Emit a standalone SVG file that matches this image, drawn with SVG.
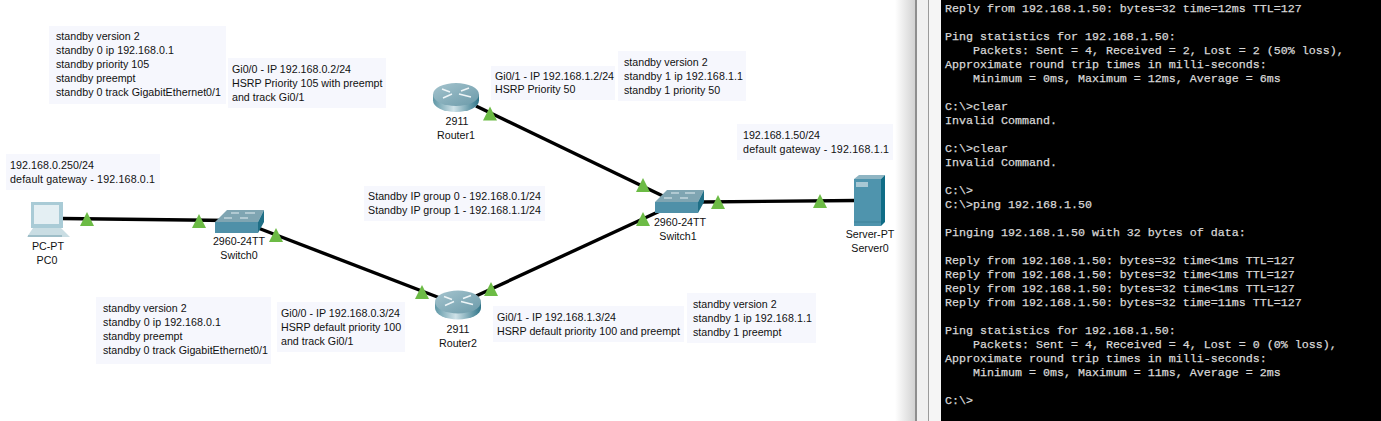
<svg xmlns="http://www.w3.org/2000/svg" width="1381" height="421" viewBox="0 0 1381 421">
<style>
text{font-family:"Liberation Sans",Arial,sans-serif;font-size:10.68px;fill:#111}
.c{text-anchor:middle}
.note{fill:#f6f7fd}
.link{stroke:#000;stroke-width:3.4;fill:none}
.tri{fill:#6cbb45}
.term text{font-family:"Liberation Mono","Courier New",monospace;font-size:11.67px;fill:#d8d8d8;white-space:pre;stroke:#d8d8d8;stroke-width:.25}
</style>
<defs>
<linearGradient id="rt" x1="0" x2="1" y1="0" y2="0"><stop offset="0" stop-color="#5f97a6"/><stop offset=".45" stop-color="#cfe2e8"/><stop offset="1" stop-color="#2f7488"/></linearGradient>
<linearGradient id="rtop" x1="0" x2="1" y1="0" y2="1"><stop offset="0" stop-color="#a5c4ce"/><stop offset="1" stop-color="#6b9aa9"/></linearGradient>
<linearGradient id="shadow" x1="0" x2="1" y1="0" y2="0"><stop offset="0" stop-color="#fff"/><stop offset="1" stop-color="#d2d2d2"/></linearGradient>
<g id="router">
<ellipse cx="0" cy="2.5" rx="23" ry="11.5" fill="url(#rt)"/>
<rect x="-23" y="-3.5" width="46" height="6" fill="url(#rt)"/>
<ellipse cx="0" cy="-3.5" rx="23" ry="11.5" fill="url(#rtop)"/>
<path d="M-14-9l8 3 M-13 0l9-4 M13-10l-8 3 M3-4l12 3" stroke="#eef5f7" stroke-width="1.5" fill="none"/>
</g>
<g id="switch">
<path d="M-25 1L-13-11H24L18 1Z" fill="#7fa5b2"/>
<path d="M18 1L24-11V1L18 12Z" fill="#1f6f86"/>
<rect x="-25" y="1" width="43" height="11" fill="#4f90a8"/>
<path d="M-9-8h8 M5-8h10 M-16-3h8 M0-3h8" stroke="#e4eef2" stroke-width="1"/>
</g>
<path id="t" d="M0-7L7 7H-7Z" class="tri"/>
</defs>

<rect width="1381" height="421" fill="#fff"/>

<g id="connectors">
<path class="link" d="M62 218.500L230 220.500"/>
<path class="link" d="M258 228L440 298"/>
<path class="link" d="M476 106L665 197"/>
<path class="link" d="M476 296L660 211"/>
<path class="link" d="M700 202L856 200.500"/>
</g>
<g id="link-markers">
<use href="#t" x="87" y="219"/>
<use href="#t" x="199" y="221"/>
<use href="#t" x="276" y="235"/>
<use href="#t" x="422" y="292"/>
<use href="#t" x="491" y="289"/>
<use href="#t" x="643" y="219"/>
<use href="#t" x="490" y="113.500"/>
<use href="#t" x="643" y="185"/>
<use href="#t" x="718" y="202"/>
<use href="#t" x="820" y="201"/>
</g>

<g id="note-r0-config"><rect class="note" x="49" y="26" width="177" height="78"/>
<text x="56" y="40">standby version 2</text><text x="56" y="54" textLength="118">standby 0 ip 192.168.0.1</text><text x="56" y="68">standby priority 105</text><text x="56" y="82">standby preempt</text><text x="56" y="96" textLength="165">standby 0 track GigabitEthernet0/1</text></g>
<g id="note-r0-if"><rect class="note" x="228" y="58" width="158" height="50"/>
<text x="232" y="73">Gi0/0 - IP 192.168.0.2/24</text><text x="232" y="87">HSRP Priority 105 with preempt</text><text x="232" y="101">and track Gi0/1</text></g>
<g id="note-pc"><rect class="note" x="6" y="154" width="154" height="36"/>
<text x="10" y="169" textLength="84">192.168.0.250/24</text><text x="10" y="183" textLength="145">default gateway - 192.168.0.1</text></g>
<g id="note-r1-if"><rect class="note" x="491" y="66" width="124" height="34"/>
<text x="495" y="80">Gi0/1 - IP 192.168.1.2/24</text><text x="495" y="93">HSRP Priority 50</text></g>
<g id="note-r1-config"><rect class="note" x="618" y="51" width="128" height="50"/>
<text x="624" y="66">standby version 2</text><text x="624" y="80" textLength="119">standby 1 ip 192.168.1.1</text><text x="624" y="94">standby 1 priority 50</text></g>
<g id="note-server"><rect class="note" x="737" y="124" width="156" height="36"/>
<text x="743" y="139" textLength="77">192.168.1.50/24</text><text x="743" y="153" textLength="146">default gateway - 192.168.1.1</text></g>
<g id="note-standby"><rect class="note" x="364" y="186" width="181" height="35"/>
<text x="368" y="200" textLength="173">Standby IP group 0 - 192.168.0.1/24</text><text x="368" y="214" textLength="173">Standby IP group 1 - 192.168.1.1/24</text></g>
<g id="note-r2-config"><rect class="note" x="96" y="297" width="175" height="67"/>
<text x="103" y="312">standby version 2</text><text x="103" y="326" textLength="118">standby 0 ip 192.168.0.1</text><text x="103" y="340">standby preempt</text><text x="103" y="354" textLength="165">standby 0 track GigabitEthernet0/1</text></g>
<g id="note-r2-if0"><rect class="note" x="277" y="302" width="128" height="50"/>
<text x="281" y="317">Gi0/0 - IP 192.168.0.3/24</text><text x="281" y="331">HSRP default priority 100</text><text x="281" y="345">and track Gi0/1</text></g>
<g id="note-r2-if1"><rect class="note" x="493" y="306" width="191" height="36"/>
<text x="497" y="321">Gi0/1 - IP 192.168.1.3/24</text><text x="497" y="335" textLength="183">HSRP default priority 100 and preempt</text></g>
<g id="note-r2-config1"><rect class="note" x="687" y="293" width="129" height="50"/>
<text x="693" y="308">standby version 2</text><text x="693" y="322" textLength="119">standby 1 ip 192.168.1.1</text><text x="693" y="336">standby 1 preempt</text></g>

<g id="PC0">
<rect x="31" y="202" width="32" height="26" fill="#a9cbd6"/>
<rect x="34" y="205" width="25" height="19" fill="#e4eff3"/>
<path d="M33 228H61L70 237H27Z" fill="#c9dde3"/>
<path d="M28 236H62" stroke="#8fb3bf" stroke-width="1.5"/>
<text class="c" x="48" y="250">PC-PT</text><text class="c" x="47" y="264">PC0</text>
</g>
<g id="Switch0">
<use href="#switch" x="240" y="221"/>
<text class="c" x="239" y="245">2960-24TT</text><text class="c" x="239" y="259">Switch0</text>
</g>
<g id="Router1">
<use href="#router" x="456" y="98"/>
<text class="c" x="457" y="125">2911</text><text class="c" x="456" y="139">Router1</text>
</g>
<g id="Router2">
<use href="#router" x="458" y="305.500"/>
<text class="c" x="458" y="333">2911</text><text class="c" x="458" y="347">Router2</text>
</g>
<g id="Switch1">
<use href="#switch" x="680" y="201"/>
<text class="c" x="680" y="226">2960-24TT</text><text class="c" x="678" y="240">Switch1</text>
</g>
<g id="Server0">
<path d="M854 179L859 175H885L881 179Z" fill="#8fb5c3"/>
<path d="M881 179L885 175V222L881 226Z" fill="#0f6c86"/>
<rect x="854" y="179" width="27" height="47" fill="#4f94ad"/>
<rect x="856" y="182" width="12" height="5" fill="#a8c8d4"/>
<path d="M854 222H881" stroke="#3f8299"/>
<text class="c" x="870" y="238">Server-PT</text><text class="c" x="870" y="252">Server0</text>
</g>

<g id="window-chrome">
<rect x="895" y="0" width="20" height="421" fill="url(#shadow)"/>
<rect x="915" y="0" width="2" height="421" fill="#8e8e8e"/>
<rect x="917" y="0" width="11" height="421" fill="#f0f0f0"/>
<rect x="928" y="0" width="1" height="421" fill="#9a9a9a"/>
<rect x="929" y="0" width="12" height="421" fill="#f5f5f5"/>
</g>
<g id="terminal" class="term">
<rect x="941" y="0" width="440" height="421" fill="#000"/>
<text x="945" y="12">Reply from 192.168.1.50: bytes=32 time=12ms TTL=127</text>
<text x="945" y="40">Ping statistics for 192.168.1.50:</text>
<text x="945" y="54">    Packets: Sent = 4, Received = 2, Lost = 2 (50% loss),</text>
<text x="945" y="68">Approximate round trip times in milli-seconds:</text>
<text x="945" y="82">    Minimum = 0ms, Maximum = 12ms, Average = 6ms</text>
<text x="945" y="110">C:\&gt;clear</text>
<text x="945" y="124">Invalid Command.</text>
<text x="945" y="152">C:\&gt;clear</text>
<text x="945" y="166">Invalid Command.</text>
<text x="945" y="194">C:\&gt;</text>
<text x="945" y="208">C:\&gt;ping 192.168.1.50</text>
<text x="945" y="236">Pinging 192.168.1.50 with 32 bytes of data:</text>
<text x="945" y="264">Reply from 192.168.1.50: bytes=32 time&lt;1ms TTL=127</text>
<text x="945" y="278">Reply from 192.168.1.50: bytes=32 time&lt;1ms TTL=127</text>
<text x="945" y="292">Reply from 192.168.1.50: bytes=32 time&lt;1ms TTL=127</text>
<text x="945" y="306">Reply from 192.168.1.50: bytes=32 time=11ms TTL=127</text>
<text x="945" y="334">Ping statistics for 192.168.1.50:</text>
<text x="945" y="348">    Packets: Sent = 4, Received = 4, Lost = 0 (0% loss),</text>
<text x="945" y="362">Approximate round trip times in milli-seconds:</text>
<text x="945" y="376">    Minimum = 0ms, Maximum = 11ms, Average = 2ms</text>
<text x="945" y="404">C:\&gt;</text>
</g>
</svg>
